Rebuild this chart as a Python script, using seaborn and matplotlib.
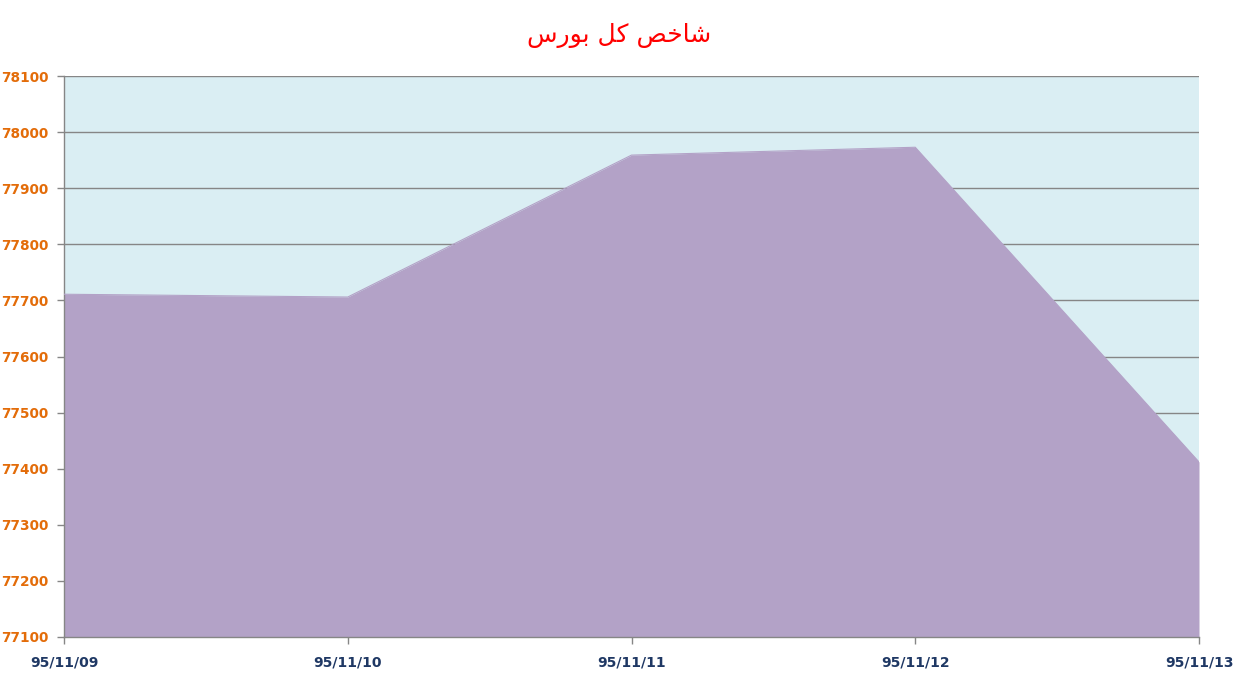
import pandas as pd
import numpy as np
import matplotlib.pyplot as plt
import seaborn as sns

# data
dates = ['95/11/09', '95/11/10', '95/11/11', '95/11/12', '95/11/13']
index_values = [77711, 77706, 77959, 77973, 77412]
y_ticks = [77100, 77200, 77300, 77400, 77500, 77600, 77700, 77800, 77900, 78000, 78100]

# title: "شاخص کل بورس", shaped into presentation forms in visual order
title_text = '\ufeb1\ufead\ufeee\ufe91 \ufede\ufedb \ufeba\ufea7\ufe8e\ufeb7'

df = pd.DataFrame({'pos': range(len(dates)), 'value': index_values})

sns.set_style('white')
plt.rcParams['font.family'] = ['DejaVu Sans']

fig = plt.figure(figsize=(12.38, 6.75), dpi=100)
ax = fig.add_axes([64 / 1238, 1 - 637 / 675, (1199 - 64) / 1238, (637 - 76) / 675])
ax.set_facecolor('#DAEEF3')

for t in y_ticks:
    ax.axhline(t, color='#868686', linewidth=1, zorder=1)

ax.fill_between(df['pos'], y_ticks[0], df['value'], color='#B3A2C7', zorder=2, linewidth=0)
sns.lineplot(data=df, x='pos', y='value', ax=ax, color='#B3A2C7', linewidth=0.8, zorder=3)

ax.set_xlim(0, len(dates) - 1)
ax.set_ylim(y_ticks[0], y_ticks[-1])
ax.set_xticks(df['pos'])
ax.set_xticklabels(dates)
ax.set_yticks(y_ticks)
ax.set_yticklabels([str(t) for t in y_ticks])
ax.set_xlabel('')
ax.set_ylabel('')

for lbl in ax.get_yticklabels():
    lbl.set_color('#E36C09')
    lbl.set_fontweight('bold')
    lbl.set_fontsize(9.8)
for lbl in ax.get_xticklabels():
    lbl.set_color('#1F3864')
    lbl.set_fontweight('bold')
    lbl.set_fontsize(10)

ax.tick_params(axis='both', which='both', bottom=True, left=True, length=5,
               width=1, color='#868686', direction='out')
ax.tick_params(axis='y', pad=6)
ax.tick_params(axis='x', pad=8)

for side in ['top', 'right']:
    ax.spines[side].set_visible(False)
for side in ['left', 'bottom']:
    ax.spines[side].set_color('#868686')
    ax.spines[side].set_linewidth(1)

fig.text(0.5, 1 - 35 / 675, title_text, ha='center', va='center', color='#FF0000', fontsize=18)

fig.savefig('out.png', dpi=100)
